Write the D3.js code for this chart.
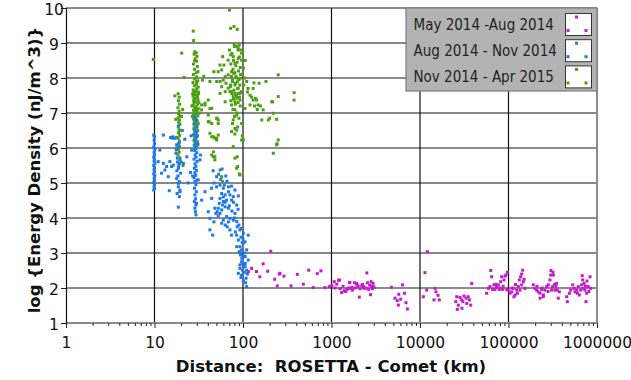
<!DOCTYPE html>
<html>
<head>
<meta charset="utf-8">
<script src="https://cdn.jsdelivr.net/npm/d3@7"></script>
<style>
  html, body { margin: 0; padding: 0; background: #fff; }
  svg { display: block; }
  .tick-label { font-family: "DejaVu Sans", Verdana, sans-serif; font-size: 15.5px; fill: #111; }
  .axis-title { font-family: "DejaVu Sans", Verdana, sans-serif; font-size: 16.5px; font-weight: bold; fill: #111; white-space: pre; }
  .legend-text { font-family: "DejaVu Sans Condensed", "DejaVu Sans", sans-serif; font-stretch: condensed; font-size: 15px; fill: #222; }
</style>
</head>
<body>
<svg id="chart" width="631" height="380"></svg>
<script>
// Axis ticks
const xTickValues = [1, 10, 100, 1000, 10000, 100000, 1000000];
const yTickValues = [1, 2, 3, 4, 5, 6, 7, 8, 9, 10];

// Series labels and colours
const seriesNames = ["May 2014 -Aug 2014", "Aug 2014 - Nov 2014", "Nov 2014 - Apr 2015"];
const seriesColors = ["#c21ccb", "#1d78ee", "#4c9f12"];

// [distance km, log energy density]
const mayAug = [
  [101,2.61],[115,2.47],[125,2.56],[142,2.47],[155,2.32],[169,2.69],[206,3.05],[190,2.48],[228,2.25],[257,2.40],
  [262,2.42],[290,2.34],[244,2.06],[349,2.06],[411,2.39],[480,2.11],[552,2.51],[622,2.01],[691,2.41],[760,2.49],
  [844,2.01],[946,2.04],[1010,2.07],[1073,2.18],[1146,2.11],[1202,2.22],[1230,2.23],[1303,1.87],[1396,1.92],[1500,1.96],
  [1590,2.15],[1650,1.99],[1611,2.16],[1723,1.94],[1817,2.15],[1918,2.13],[1950,2.09],[2060,1.74],[2198,2.07],[2300,2.04],
  [2343,1.99],[2506,2.43],[2627,1.96],[2758,1.81],[2850,2.04],[2952,2.13],[3020,2.03],[1100,2.00],[1250,1.98],[1350,2.05],
  [1450,1.90],[1550,2.00],[1700,2.02],[1850,2.00],[2000,2.05],[2100,1.98],[2250,2.10],[2450,2.00],[2550,2.15],[2700,2.08],
  [2900,1.98],[2800,2.18],
  [4750,2.02],[5214,1.71],[5530,1.64],[5760,1.82],[6050,1.68],[6350,2.09],[6700,1.85],[6950,1.58],[7200,1.40],[5690,1.51],
  [10900,1.75],[11380,2.44],[11900,1.94],[12100,3.04],[14390,1.66],[14770,1.99],[15170,1.89],[15970,1.79],[16520,1.66],
  [25400,1.61],[26000,1.75],[26400,1.39],[27100,1.51],[28300,1.73],[29600,1.66],[29800,1.42],[30500,1.61],[31400,1.77],
  [33100,1.71],[33700,1.56],[35100,1.75],[36100,1.66],[37400,1.51],[38400,2.13],
  [56600,1.85],[59200,1.99],[61800,2.04],[64500,2.32],[66200,1.96],[68500,2.09],[70300,1.96],[73500,2.02],[76700,2.09],
  [78700,1.96],[81600,2.18],[83700,2.32],[85900,1.96],[88900,2.23],[91200,2.34],[93700,2.37],[95400,1.96],[63000,2.50],
  [72000,2.10],[80000,2.00],[87000,2.05],[97000,2.45],
  [99500,1.94],[104000,1.85],[108600,1.89],[113300,1.99],[115300,1.75],[118400,1.80],[123800,1.94],[125900,1.85],
  [129100,2.04],[132500,2.23],[134900,1.94],[137200,2.32],[140900,2.09],[144600,2.51],[146900,2.18],[153500,1.99],
  [120000,2.10],[141000,2.40],[150000,2.25],[110000,2.00],
  [190600,2.09],[199000,1.99],[208000,1.94],[217000,1.89],[227000,1.85],[227500,1.71],[237000,1.96],[247000,1.75],
  [248000,1.80],[258000,1.94],[270000,2.04],[282000,2.09],[294000,2.23],[299000,2.37],[307000,1.94],[315000,2.04],
  [321000,2.37],[335000,1.94],[344000,2.04],[350000,2.13],[356000,1.94],[365000,1.71],[375000,1.89],[302000,2.50],
  [318000,2.45],[210000,2.05],[240000,2.00],[280000,1.90],[330000,2.10],
  [455000,1.75],[462000,1.61],[487000,1.85],[505000,1.94],[532000,2.09],[550000,1.99],[564000,1.89],[590000,1.94],
  [615000,2.04],[631000,1.80],[654000,1.94],[671000,2.09],[689000,2.23],[701000,1.99],[713000,2.13],[731000,1.94],
  [751000,1.61],[764000,1.85],[797000,2.04],[834000,2.32],[849000,1.99],[600000,1.85],[680000,2.35],[740000,2.05],
  [810000,1.90],[770000,2.20]
];

const augNov = [
  [9.8,6.37],[10,6.32],[9.9,6.22],[10,6.12],[9.8,6.03],[10.1,5.95],[9.9,5.88],[10,5.80],[9.8,5.74],[10,5.68],
  [9.9,5.62],[10.1,5.56],[9.8,5.50],[10,5.44],[9.9,5.38],[10,5.32],[9.8,5.26],[10.1,5.20],[9.9,5.14],[10,5.08],
  [9.8,5.02],[10,4.96],[9.9,4.90],[10,4.84],[9.8,4.80],
  [12.6,6.37],[11.5,5.94],[11.0,5.61],[12.6,5.56],[13.7,5.47],[14.9,5.61],[16.3,5.51],[12.0,5.28],[13.1,5.37],
  [14.3,5.18],[15.6,5.47],[14.7,4.78],[15.2,6.30],[16.0,6.28],
  [16.1,6.32],[17.1,6.28],[17.8,6.09],[18.6,6.04],[17.5,5.85],[18.1,5.71],[19.4,5.66],[19.1,5.56],[18.6,5.42],
  [19.8,5.28],[17.8,5.13],[19.1,5.04],[18.6,4.89],[19.4,4.75],[19.1,4.61],[18.6,4.31],[18.6,4.99],[19.4,4.80],
  [17.6,5.95],[18.2,5.60],[18.8,5.50],[17.9,5.35],[18.4,5.20],[19.0,6.15],[18.0,4.70],[18.6,6.63],[20.5,6.50],
  [28.5,6.90],[29.6,6.80],[28.2,6.70],[30.2,6.60],[28.4,6.50],[29.8,6.45],[28.0,6.38],[29.4,6.30],[28.5,6.22],[30.4,6.15],
  [28.1,6.08],[29.3,6.00],[28.4,5.93],[30.0,5.87],[28.8,5.80],[29.5,5.74],[28.0,5.68],[30.3,5.62],[28.7,5.55],[29.4,5.48],
  [28.2,5.42],[29.9,5.36],[28.6,5.30],[29.2,5.22],[28.0,5.15],[30.1,5.08],[28.6,5.04],[29.4,4.95],[28.3,4.85],[29.7,4.75],
  [28.6,4.66],[29.1,4.55],[28.2,4.47],[29.8,4.42],[29.4,4.37],[28.6,4.28],[29,4.18],[29.4,4.09],
  [31.2,5.09],[34.1,4.51],[26.3,5.94],[23.2,5.75],[21.2,5.56],[32.6,5.66],[25.5,5.30],[27,5.20],[31,6.10],[33,5.80],
  [24,5.00],[26,6.35],[30.5,6.35],[22,6.25],
  [37.2,4.75],[44.3,4.56],[40.5,4.18],[42.3,3.99],[42.3,3.66],[45.4,3.51],[46.9,3.89],[48.1,4.28],[49.4,4.13],
  [51.1,4.18],[52.5,4.06],[50.3,4.89],[55.0,4.94],[59.9,4.85],[57.4,4.70],[62.9,4.66],[65.2,4.51],[59.9,4.47],
  [55.0,4.56],[54.0,4.42],[58.9,4.37],[62.9,4.32],[68.4,4.28],[52.5,4.28],[57.4,4.23],[55.0,4.13],[65.2,4.04],
  [71.2,3.99],[77.7,3.94],[68.4,3.89],[59.9,3.94],[62.9,3.80],[57.4,3.85],[66.3,3.75],[71.2,3.66],[74.3,3.51],
  [84.8,4.37],[81.0,4.13],[88.6,4.63],[71.2,4.66],[77.7,4.61],[68.4,4.75],[74.3,4.51],[68.4,4.89],[74.3,4.91],
  [81.0,4.80],[92.3,3.66],[84.8,3.51],[88.6,3.37],[92.3,3.18],[96.5,3.09],[100.8,3.28],[105.3,3.32],[110.0,3.09],
  [90.7,3.04],[93.9,2.94],[100.8,2.89],[96.5,2.75],[92.3,2.66],[102.3,2.66],[110.0,2.51],[88.6,2.42],[96.5,2.37],
  [108.2,2.28],[110.0,2.04],[105.3,2.61],[114.6,2.80],[98.8,2.51],[92.3,2.56],[84.8,3.18],[100.8,3.56],[114.6,3.51],
  [50.4,5.18],[53,5.25],[56,5.10],[61.4,4.94],[47,5.00],[44,4.85],[46,5.35],[58,5.40],[64,5.20],[66,5.05],
  [60,4.60],[63,4.45],[70,4.35],[75,4.20],[80,4.00],[85,3.90],[90,3.80],[95,3.45],[98,3.30],[93,3.00],
  [97,2.85],[103,3.00],[106,2.90],[99,2.70],[104,2.45],[95,2.30],[101,2.20],[107,2.15],[88,4.25],[78,4.45],
  [86,3.75],[82,3.60],[95,3.70],[100,3.40],[106,2.70],[112,2.40]
];

const novApr = [
  [9.7,8.53],
  [20.3,8.71],[21.6,8.02],[17.0,7.49],[17.4,6.82],[18.5,7.55],[19,7.45],[18.6,7.35],[19.2,7.25],[18.4,7.15],[19,7.05],
  [18.7,6.98],[19.3,6.92],[18.5,6.86],[19.1,6.80],[18.8,6.74],[19.4,6.68],[18.6,6.60],[19.0,6.52],[18.7,6.44],[19.3,6.36],
  [18.5,6.28],[19.1,6.20],[18.8,6.12],[19.2,6.04],[18.6,5.96],[19.0,5.88],[18.4,5.80],[19.4,5.72],[20.2,6.90],[20.5,6.50],
  [17.8,6.30],[20.8,7.10],[17.9,6.00],[20,5.60],[21,5.50],
  [27.4,9.34],[27.7,9.07],[28.5,8.75],[29.6,8.72],[28.0,8.68],[30.2,8.62],[28.8,8.55],[29.9,8.48],[27.6,8.40],[30.5,8.33],
  [28.3,8.25],[31.0,8.18],[27.5,8.10],[29.8,8.03],[28.4,7.97],[30.8,7.92],[27.2,7.87],[29.8,7.82],[28.3,7.78],[31.2,7.74],
  [30,7.70],[27.4,7.66],[29.5,7.62],[28.1,7.58],[31.4,7.55],[29,7.52],[27.3,7.48],[30.6,7.45],[28.8,7.42],[31.0,7.38],
  [27.8,7.35],[29.3,7.32],[28.0,7.28],[30.7,7.25],[27.2,7.22],[29.5,7.18],[28.6,7.15],[31.3,7.12],[27.6,7.08],[30.1,7.05],
  [28.5,7.02],[29.7,6.98],[27.4,6.95],[30.9,6.92],[28.3,6.88],[29.4,6.85],[27.6,6.82],[30.4,6.78],[28.4,6.75],[29.2,6.72],
  [27.9,6.68],[30.2,6.65],[28.5,6.62],[29.5,6.58],[27.8,6.55],[30.8,6.50],[28.6,6.46],[29.3,6.42],[27.7,6.38],[30,6.34],
  [28.5,6.30],[29.4,6.26],[27.9,6.22],[30.7,6.18],[28.6,6.14],[29.2,6.10],[30.1,6.06],[28.8,6.02],[29.5,5.98],
  [28.0,7.60],[30.0,7.90],[29.0,7.10],[28.2,6.95],[30.3,7.50],[29.6,8.15],[27.9,7.40],[30.5,6.70],[29.1,6.45],[28.4,8.50],
  [31.5,7.60],[31.8,7.30],[32,7.00],[31.2,6.70],[26.5,7.20],[26.8,6.90],[27,7.55],
  [34.9,7.94],[42.3,7.90],[37.2,7.23],[42.3,7.13],[34.1,7.09],[40.5,6.94],[51,6.85],[52.5,6.80],[41.4,6.75],[42.3,6.42],
  [46.3,6.32],[50.4,6.28],[46.3,5.89],[48.1,5.75],[48.1,5.66],[55,5.37],[57.4,5.18],[58.9,5.04],[40.5,7.37],[44.3,7.13],
  [34.1,7.23],[37.2,7.28],[40.5,6.75],[44.3,6.70],[50.4,6.85],[52.5,6.37],[44.3,5.80],[46.3,5.75],[36,8.05],
  [70.2,9.94],[72.5,9.42],[79.1,9.47],[86.1,9.39],[79.5,8.96],[84.6,8.91],[90.6,8.94],[88.2,8.85],[94.2,8.80],[96.5,8.71],
  [70.2,8.80],[72.5,8.66],[67.9,8.51],[77.6,8.61],[81.1,8.42],[88.2,8.56],[96.5,8.51],[100.8,8.28],
  [58.9,8.61],[60.9,8.37],[55.0,8.37],[57.4,8.23],[52.5,8.18],[46.9,8.18],[62.9,8.04],[67.9,8.09],[74.3,8.18],[79.1,8.13],
  [83.3,8.04],[76.0,7.94],[86.1,7.89],[92.3,7.99],[81.1,7.80],[88.2,7.71],[72.5,7.80],[67.9,7.71],[64.2,7.85],[59.9,7.94],
  [55.0,7.90],[50.4,7.90],[57.4,7.75],[62.9,7.61],[74.3,7.61],[81.1,7.56],[92.3,7.56],[96.5,7.61],
  [80,8.90],[88,8.80],[75,8.70],[91,8.60],[78,8.50],[86,8.45],[73,8.40],[83,8.35],[93,8.30],[77,8.25],
  [89,8.20],[81,8.15],[94,8.10],[74,8.05],[85,8.00],[90,7.95],[76,7.90],[82,7.85],[92,7.80],[72,7.75],
  [87,7.70],[79,7.65],[95,7.60],[75,7.55],[84,7.50],[91,7.45],[78,7.40],[73,7.35],[88,7.30],[82,7.25],
  [93,7.20],[77,7.10],[86,7.00],[80,6.90],[90,6.85],[76,6.70],[87,6.60],[81,6.40],
  [55,7.56],[62.9,7.32],[71.2,7.61],[77.6,7.47],[84.8,7.42],[81.1,7.32],[88.2,7.56],[92.3,7.37],[74.3,7.23],[81.1,7.09],
  [84.8,6.94],[77.6,6.80],[96.5,6.70],[52.5,6.70],
  [86,5.75],[87,5.47],[91,5.26],[96.5,6.23],[81,6.56],[77.6,6.04],[81.1,5.71],[84.8,5.42],[92.3,5.23],[100.8,6.23],
  [84.8,6.51],[74.3,6.47],[44.3,6.32],[48.1,6.28],[50.4,6.23],[98,6.35],
  [120,7.51],[130,7.37],[148,7.23],[169,7.09],[163,6.80],[193,6.80],[211,7.32],[250,7.47],[220,6.99],[250,6.23],
  [240,6.09],[220,5.85],[105,7.13],[120,7.23],[138,7.42],[250,8.09],[182,7.90],[133,7.86],[114,7.70],[142,7.37],
  [158,7.20],[240,6.82],[378,7.58],[378,7.37],[216,7.32],[152,7.85],[130,7.70],[110,7.90],[104,8.00],[200,6.85],
  [243,6.12],[106,8.50],[102,7.80],[112,7.60],[125,7.45],[135,7.20],[145,7.10]
];

const seriesData = [mayAug, augNov, novApr];

const svg = d3.select("#chart");
const plotLeft = 66, plotRight = 597, plotTop = 8, plotBottom = 323;

const x = d3.scaleLog().domain([1, 1000000]).range([plotLeft, plotRight]);
const y = d3.scaleLinear().domain([1, 10]).range([plotBottom, plotTop]);

// Horizontal grid: odd values dark, even values grey
const grid = svg.append("g");
grid.selectAll("line.h").data(yTickValues.filter(v => v > 1)).join("line")
  .attr("x1", plotLeft).attr("x2", plotRight)
  .attr("y1", d => y(d)).attr("y2", d => y(d))
  .attr("stroke", d => d % 2 === 0 ? "#8c8c8c" : "#111")
  .attr("stroke-width", d => d % 2 === 0 ? 2 : 1.2);

// Vertical grid at each decade
grid.selectAll("line.v").data(xTickValues.filter(v => v > 1)).join("line")
  .attr("y1", plotTop).attr("y2", plotBottom)
  .attr("x1", d => x(d)).attr("x2", d => x(d))
  .attr("stroke", d => d === 1000000 ? "#8c8c8c" : "#111")
  .attr("stroke-width", d => d === 1000000 ? 2 : 1.2);

// Bottom axis line
svg.append("line").attr("x1", plotLeft).attr("x2", plotRight).attr("y1", plotBottom).attr("y2", plotBottom)
  .attr("stroke", "#8c8c8c").attr("stroke-width", 2);

// Minor x ticks
const minorTicks = [];
xTickValues.slice(0, -1).forEach(d => { for (let k = 2; k <= 9; k++) minorTicks.push(d * k); });
const xMinor = d3.axisBottom(x).tickValues(minorTicks).tickSize(3).tickFormat("");
const gxm = svg.append("g").attr("transform", `translate(0,${plotBottom})`).call(xMinor);
gxm.select(".domain").remove();
gxm.selectAll(".tick line").attr("stroke", "#222");

// Major x ticks with labels
const xMajor = d3.axisBottom(x).tickValues(xTickValues).tickSize(5).tickPadding(9).tickFormat(d => String(d));
const gx = svg.append("g").attr("transform", `translate(0,${plotBottom})`).call(xMajor);
gx.select(".domain").remove();
gx.attr("font-family", null).attr("font-size", null);
gx.selectAll(".tick line").attr("stroke", "#222");
gx.selectAll(".tick text").attr("class", "tick-label");

// Y axis
const yAxis = d3.axisLeft(y).tickValues(yTickValues).tickSize(5).tickFormat(d => String(d));
const gy = svg.append("g").attr("transform", `translate(${plotLeft},0)`).call(yAxis);
gy.attr("font-family", null).attr("font-size", null);
gy.select(".domain").attr("stroke", "#111").attr("stroke-width", 1.2);
gy.selectAll(".tick line").attr("stroke", "#222");
gy.selectAll(".tick text").attr("class", "tick-label")
  .attr("text-anchor", "middle").attr("x", -12).attr("dy", "0.42em");

// Scatter points
const pointSize = 3;
[mayAug, novApr, augNov].forEach(series => {
  const color = seriesColors[seriesData.indexOf(series)];
  svg.append("g").selectAll("rect").data(series).join("rect")
    .attr("x", d => x(d[0]) - pointSize / 2)
    .attr("y", d => y(d[1]) - pointSize / 2)
    .attr("width", pointSize).attr("height", pointSize)
    .attr("fill", color);
});

// Legend
const legend = svg.append("g");
legend.append("rect").attr("x", 406).attr("y", 8).attr("width", 191).attr("height", 83)
  .attr("fill", "#b3b3b3").attr("stroke", "#7d7d7d").attr("stroke-width", 1.2);
seriesNames.forEach((name, i) => {
  const rowY = 24.5 + i * 26.2;
  legend.append("text").attr("class", "legend-text")
    .attr("x", 413.5).attr("y", rowY).attr("dy", "0.36em").text(name);
  const bx = 565.5, by = rowY - 11;
  legend.append("rect").attr("x", bx).attr("y", by).attr("width", 26).attr("height", 22)
    .attr("fill", "#fff").attr("stroke", "#333").attr("stroke-width", 1);
  [[11, 3.5], [2.5, 17], [20.5, 17]].forEach(p => {
    legend.append("rect").attr("x", bx + p[0] - 1.5).attr("y", by + p[1] - 1.5)
      .attr("width", 3).attr("height", 3).attr("fill", seriesColors[i]);
  });
});

// Axis titles
svg.append("text").attr("class", "axis-title")
  .attr("x", 331).attr("y", 372).attr("text-anchor", "middle")
  .text("Distance:  ROSETTA - Comet (km)");
svg.append("text").attr("class", "axis-title")
  .attr("transform", "translate(40,170) rotate(-90)").attr("text-anchor", "middle")
  .text("log {Energy Density (nJ/m^3)}");
</script>
</body>
</html>
